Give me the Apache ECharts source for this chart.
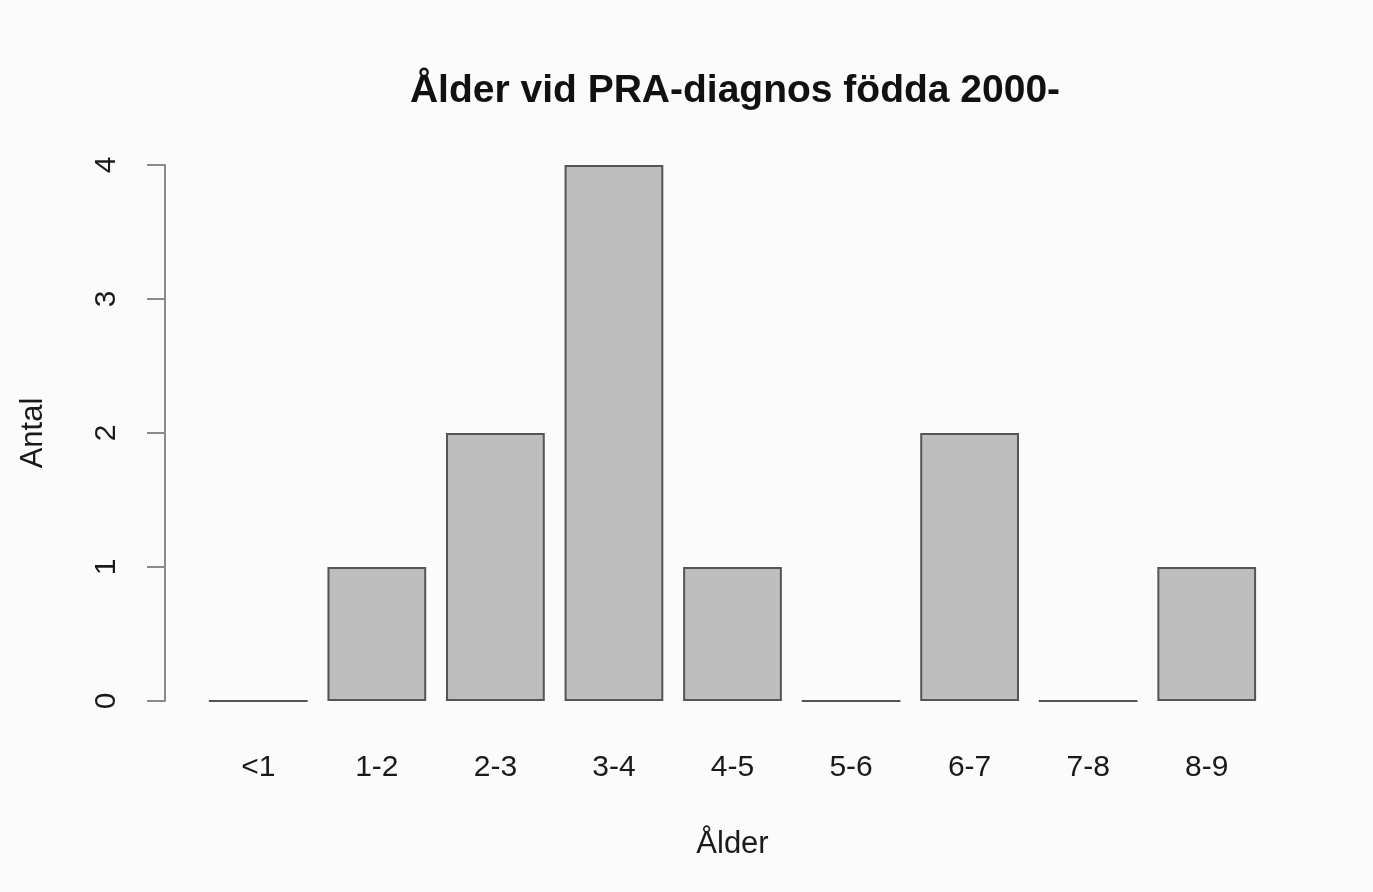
<!DOCTYPE html>
<html lang="sv">
<head>
<meta charset="UTF-8">
<title>Ålder vid PRA-diagnos</title>
<script src="https://cdn.jsdelivr.net/npm/echarts@6/dist/echarts.min.js"></script>
<style>
  html, body { margin: 0; padding: 0; background: #fbfbfb; }
  #main { width: 1373px; height: 892px; }
</style>
</head>
<body>
<div id="main"></div>
<script>
// åldersklasser och antal
var categories = ['<1', '1-2', '2-3', '3-4', '4-5', '5-6', '6-7', '7-8', '8-9'];
var antal = [0, 1, 2, 4, 1, 0, 2, 0, 1];
var yTicks = [0, 1, 2, 3, 4];

var font = 'Liberation Sans, Arial, sans-serif';
var chart = echarts.init(document.getElementById('main'));

var option = {
  backgroundColor: '#fbfbfb',
  animation: false,
  title: {
    text: 'Ålder vid PRA-diagnos födda 2000-',
    left: 730,
    textAlign: 'center',
    top: 67,
    textStyle: { fontFamily: font, fontSize: 39, fontWeight: 'bold', color: '#111' }
  },
  grid: { left: 199, right: 107, top: 165, bottom: 191 },
  xAxis: {
    type: 'category',
    data: categories,
    name: 'Ålder',
    nameLocation: 'middle',
    nameGap: 128,
    nameTextStyle: { fontFamily: font, fontSize: 31, color: '#1a1a1a' },
    axisLine: { show: false },
    axisTick: { show: false },
    axisLabel: { margin: 52, fontFamily: font, fontSize: 30, color: '#1a1a1a' }
  },
  yAxis: {
    type: 'value',
    min: yTicks[0],
    max: yTicks[yTicks.length - 1],
    interval: 1,
    offset: 34,
    name: 'Antal',
    nameLocation: 'middle',
    nameGap: 116,
    nameTextStyle: { fontFamily: font, fontSize: 31, color: '#1a1a1a' },
    splitLine: { show: false },
    axisLine: { show: true, lineStyle: { color: '#8a8a8a', width: 2 } },
    axisTick: { show: true, length: 18, lineStyle: { color: '#8a8a8a', width: 2 } },
    axisLabel: { rotate: 90, margin: 43, fontFamily: font, fontSize: 30, color: '#1a1a1a' }
  },
  series: [{
    type: 'bar',
    data: antal,
    barCategoryGap: '16.7%',
    itemStyle: { color: '#bebebe', borderColor: '#555', borderWidth: 2 }
  }]
};
chart.setOption(option);
</script>
</body>
</html>
